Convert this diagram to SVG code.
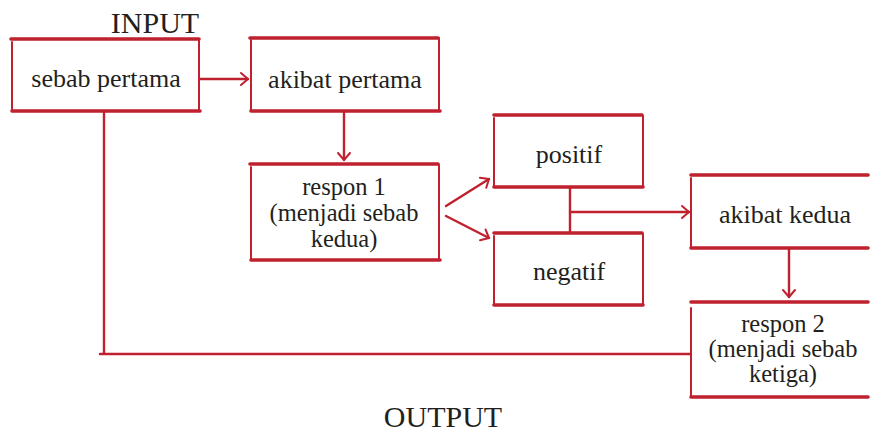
<svg xmlns="http://www.w3.org/2000/svg" width="870" height="434" viewBox="0 0 870 434">
<defs>
<style>
.edge{stroke:#c0212f;stroke-linecap:round;fill:none}
.h{stroke-width:3.6}
.v{stroke-width:2}
.c{stroke:#c0212f;stroke-width:2.4;fill:none;stroke-linecap:round}
.t{font-family:"Liberation Serif","Times New Roman",serif;font-size:26px;fill:#231f20;text-anchor:middle}
.m{font-size:24.5px}
.big{font-family:"Liberation Serif","Times New Roman",serif;font-size:30px;fill:#231f20;text-anchor:middle}
</style>
<marker id="ah" markerUnits="userSpaceOnUse" markerWidth="12" markerHeight="16" refX="9" refY="8" orient="auto">
<path d="M2,2 L9,8 L2,14" stroke="#c0212f" stroke-width="2" fill="none" stroke-linecap="round" stroke-linejoin="round"/>
</marker>
</defs>
<rect width="870" height="434" fill="#ffffff"/>
<text class="big" x="155" y="33">INPUT</text>
<text class="big" x="443" y="427">OUTPUT</text>

<g id="connectors">
<line class="c" x1="200" y1="79" x2="248" y2="79" marker-end="url(#ah)"/>
<line class="c" x1="344" y1="112" x2="344" y2="160" marker-end="url(#ah)"/>
<line class="c" x1="446" y1="206" x2="489" y2="179" marker-end="url(#ah)"/>
<line class="c" x1="446" y1="216" x2="489" y2="238" marker-end="url(#ah)"/>
<line class="c" x1="570" y1="188" x2="570" y2="233" stroke-width="3"/>
<line class="c" x1="570" y1="212" x2="689" y2="212" marker-end="url(#ah)"/>
<line class="c" x1="789" y1="249" x2="789" y2="297" marker-end="url(#ah)"/>
<line class="c" x1="104" y1="112" x2="104" y2="353" stroke-width="3"/>
<line class="c" x1="100" y1="354" x2="690" y2="354" stroke-width="3.4"/>
</g>

<g id="sebab-pertama">
<line class="edge h" x1="11" y1="39" x2="199" y2="39"/>
<line class="edge v" x1="12" y1="42" x2="12" y2="111"/>
<line class="edge v" x1="199" y1="40" x2="199" y2="111"/>
<line class="edge h" x1="12" y1="111" x2="200" y2="111"/>
<text class="t" x="106" y="87">sebab pertama</text>
</g>

<g id="akibat-pertama">
<line class="edge h" x1="250" y1="38" x2="438" y2="38"/>
<line class="edge v" x1="251" y1="40" x2="251" y2="111"/>
<line class="edge v" x1="439" y1="38" x2="439" y2="111"/>
<line class="edge h" x1="251" y1="111" x2="440" y2="111"/>
<text class="t" x="345" y="88">akibat pertama</text>
</g>

<g id="respon-1">
<line class="edge h" x1="250" y1="164" x2="438" y2="164"/>
<line class="edge v" x1="251" y1="167" x2="251" y2="260"/>
<line class="edge v" x1="439" y1="165" x2="439" y2="260"/>
<line class="edge h" x1="251" y1="260" x2="440" y2="260"/>
<text class="t m" x="344" y="195">respon 1</text>
<text class="t m" x="344" y="221">(menjadi sebab</text>
<text class="t m" x="344" y="247">kedua)</text>
</g>

<g id="positif">
<line class="edge h" x1="494" y1="115" x2="642" y2="115"/>
<line class="edge v" x1="494" y1="118" x2="494" y2="187"/>
<line class="edge v" x1="643" y1="116" x2="643" y2="187"/>
<line class="edge h" x1="494" y1="187" x2="643" y2="187"/>
<text class="t" x="569" y="163">positif</text>
</g>

<g id="negatif">
<line class="edge h" x1="494" y1="233" x2="642" y2="233"/>
<line class="edge v" x1="494" y1="236" x2="494" y2="305"/>
<line class="edge v" x1="643" y1="234" x2="643" y2="305"/>
<line class="edge h" x1="494" y1="305" x2="643" y2="305"/>
<text class="t" x="569" y="280">negatif</text>
</g>

<g id="akibat-kedua">
<line class="edge h" x1="691" y1="175" x2="868" y2="175"/>
<line class="edge v" x1="691" y1="178" x2="691" y2="248"/>
<line class="edge h" x1="691" y1="248" x2="868" y2="248"/>
<text class="t" x="785" y="223">akibat kedua</text>
</g>

<g id="respon-2">
<line class="edge h" x1="691" y1="302" x2="868" y2="302"/>
<line class="edge v" x1="691" y1="308" x2="691" y2="397"/>
<line class="edge h" x1="691" y1="397" x2="868" y2="397"/>
<text class="t m" x="783" y="332">respon 2</text>
<text class="t m" x="783" y="357">(menjadi sebab</text>
<text class="t m" x="783" y="382">ketiga)</text>
</g>
</svg>
